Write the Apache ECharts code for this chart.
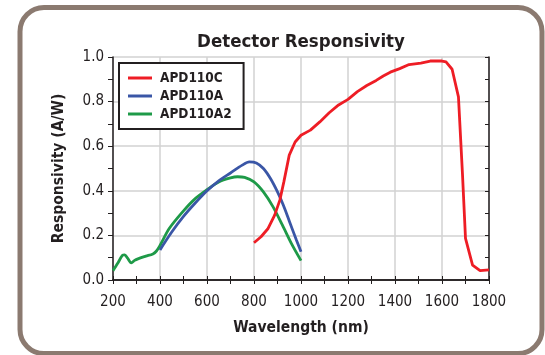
<!DOCTYPE html>
<html>
<head>
<meta charset="utf-8">
<script src="https://cdn.jsdelivr.net/npm/echarts@6/dist/echarts.min.js"></script>
<style>
  html, body { margin: 0; padding: 0; background: #fff; }
  #main { width: 545px; height: 355px; }
</style>
</head>
<body>
<div id="main"></div>
<script>
// [wavelength nm, responsivity A/W]
var apd110c = [
  [800, 0.167], [830, 0.194], [860, 0.231], [888, 0.291], [910, 0.358], [927, 0.44],
  [950, 0.56], [975, 0.619], [1000, 0.649], [1040, 0.672], [1080, 0.709], [1120, 0.75],
  [1160, 0.785], [1200, 0.81], [1240, 0.845], [1280, 0.872], [1320, 0.895], [1350, 0.915],
  [1380, 0.932], [1420, 0.948], [1460, 0.966], [1510, 0.973], [1550, 0.982], [1600, 0.982],
  [1617, 0.978], [1643, 0.945], [1670, 0.821], [1687, 0.478], [1700, 0.187], [1730, 0.067],
  [1762, 0.042], [1800, 0.045]
];
var apd110a = [
  [400, 0.135], [450, 0.215], [500, 0.285], [550, 0.345], [600, 0.40], [650, 0.445],
  [700, 0.48], [750, 0.515], [780, 0.53], [810, 0.525], [840, 0.5], [870, 0.455],
  [900, 0.395], [925, 0.335], [950, 0.265], [980, 0.18], [1000, 0.127]
];
var apd110a2 = [
  [200, 0.042], [220, 0.075], [240, 0.11], [250, 0.113], [262, 0.098], [278, 0.077],
  [292, 0.088], [306, 0.095], [340, 0.107], [370, 0.117], [385, 0.13], [400, 0.155],
  [440, 0.232], [500, 0.31], [550, 0.365], [600, 0.405], [650, 0.44], [700, 0.458],
  [730, 0.463], [760, 0.46], [800, 0.44], [840, 0.395], [880, 0.33], [920, 0.248],
  [960, 0.162], [1000, 0.087]
];
var seriesNames = ['APD110C', 'APD110A', 'APD110A2'];
var seriesColors = ['#ee1d25', '#3a56a6', '#1e9a48'];

var font = "'DejaVu Sans Condensed', 'DejaVu Sans', sans-serif";
var ink = '#231f20';

var chart = echarts.init(document.getElementById('main'));

chart.setOption({
  backgroundColor: '#fff',
  animation: false,
  title: {
    text: 'Detector Responsivity',
    left: 296,
    textAlign: 'center',
    top: 28,
    textStyle: { fontFamily: font, fontSize: 18.5, fontWeight: 'bold', color: ink }
  },
  graphic: [{
    type: 'rect',
    shape: { x: 20, y: 7.5, width: 522, height: 346, r: 24 },
    style: { fill: 'none', stroke: '#8b7a70', lineWidth: 5 },
    z: 100
  }],
  legend: {
    data: seriesNames,
    orient: 'vertical',
    left: 119,
    top: 63,
    padding: [8, 12, 8, 9],
    itemGap: 4,
    itemWidth: 24,
    itemHeight: 3,
    icon: 'rect',
    borderColor: ink,
    borderWidth: 2,
    backgroundColor: '#fff',
    textStyle: { fontFamily: font, fontSize: 13.5, fontWeight: 'bold', color: ink, padding: [0, 0, 0, 3] }
  },
  grid: { left: 113, right: 56, top: 57, bottom: 75 },
  xAxis: [{
    type: 'value',
    min: 200,
    max: 1800,
    interval: 200,
    name: 'Wavelength (nm)',
    nameLocation: 'middle',
    nameGap: 40,
    nameTextStyle: { fontFamily: font, fontSize: 15.5, fontWeight: 'bold', color: ink },
    axisLine: { lineStyle: { color: ink, width: 1.5 } },
    axisTick: { inside: true, length: 4, lineStyle: { color: ink } },
    minorTick: { show: true, splitNumber: 2, length: 4, lineStyle: { color: ink } },
    axisLabel: { fontFamily: font, fontSize: 15, color: ink, margin: 15,
      formatter: function (v) { return String(v); } },
    splitLine: { show: true, lineStyle: { color: '#d2d2d2', width: 1.5 } }
  }, {
    type: 'value',
    position: 'top',
    min: 200,
    max: 1800,
    interval: 200,
    axisLine: { lineStyle: { color: ink, width: 1.5 } },
    axisTick: { inside: true, length: 4, lineStyle: { color: ink } },
    minorTick: { show: true, splitNumber: 2, length: 4, lineStyle: { color: ink } },
    axisLabel: { show: false },
    splitLine: { show: false }
  }],
  yAxis: [{
    type: 'value',
    min: 0,
    max: 1,
    interval: 0.2,
    name: 'Responsivity (A/W)',
    nameLocation: 'middle',
    nameGap: 46,
    nameTextStyle: { fontFamily: font, fontSize: 15.5, fontWeight: 'bold', color: ink },
    axisLine: { show: true, lineStyle: { color: ink, width: 1.5 } },
    axisTick: { show: true, length: 5, lineStyle: { color: ink } },
    minorTick: { show: true, splitNumber: 2, length: 5, lineStyle: { color: ink } },
    axisLabel: { fontFamily: font, fontSize: 15, color: ink, margin: 9,
      formatter: function (v) { return v.toFixed(1); } },
    splitLine: { show: true, lineStyle: { color: '#d2d2d2', width: 1.5 } }
  }, {
    type: 'value',
    position: 'right',
    min: 0,
    max: 1,
    interval: 0.2,
    axisLine: { show: true, lineStyle: { color: ink, width: 1.5 } },
    axisTick: { show: true, inside: true, length: 4, lineStyle: { color: ink } },
    minorTick: { show: true, splitNumber: 2, length: 4, lineStyle: { color: ink } },
    axisLabel: { show: false },
    splitLine: { show: false }
  }],
  series: [
    { name: seriesNames[0], type: 'line', data: apd110c, symbol: 'none', z: 5,
      lineStyle: { color: seriesColors[0], width: 2.8 }, itemStyle: { color: seriesColors[0] } },
    { name: seriesNames[1], type: 'line', data: apd110a, symbol: 'none', smooth: 0.3, z: 4,
      lineStyle: { color: seriesColors[1], width: 2.8 }, itemStyle: { color: seriesColors[1] } },
    { name: seriesNames[2], type: 'line', data: apd110a2, symbol: 'none', smooth: 0.3, z: 3,
      lineStyle: { color: seriesColors[2], width: 2.8 }, itemStyle: { color: seriesColors[2] } }
  ]
});
</script>
</body>
</html>
